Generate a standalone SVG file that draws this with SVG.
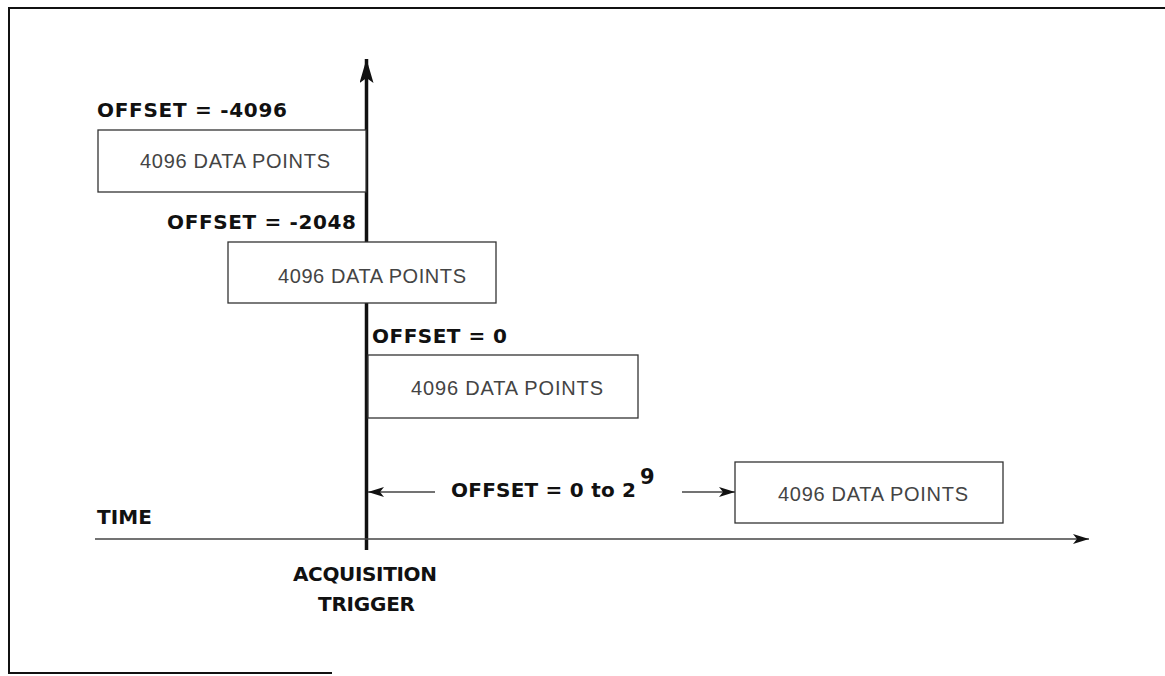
<svg xmlns="http://www.w3.org/2000/svg" width="1165" height="676" viewBox="0 0 1165 676">
<style>
.frame{fill:none;stroke:#111;stroke-width:2}
.box rect{fill:#fff;stroke:#333;stroke-width:1.3}
.box text{font-family:"Liberation Sans",Arial,sans-serif;font-size:20px;fill:#444;text-anchor:middle}
.lbl{font-family:"DejaVu Sans","Liberation Sans",Arial,sans-serif;font-size:20px;font-weight:bold;fill:#111}
.thin{stroke:#444;stroke-width:1.3;fill:none}
</style>
<defs>
<marker id="ah" viewBox="0 0 16 10" refX="16" refY="5" markerWidth="16" markerHeight="10" markerUnits="userSpaceOnUse" orient="auto">
<path d="M0,0 L16,5 L0,10 L4,5 Z" fill="#111"/>
</marker>
<marker id="ahBig" viewBox="0 0 24 14" refX="24" refY="7" markerWidth="24" markerHeight="14" markerUnits="userSpaceOnUse" orient="auto">
<path d="M0,0 L24,7 L0,14 L5,7 Z" fill="#111"/>
</marker>
</defs>
<rect width="1165" height="676" fill="#fff"/>
<g id="frame">
<path class="frame" d="M1165,8 H9 V673 H332"/>
</g>
<g id="connectors">
<line x1="366.5" y1="550" x2="366.5" y2="59" stroke="#111" stroke-width="3.5" marker-end="url(#ahBig)"/>
<line class="thin" x1="95" y1="539" x2="1089" y2="539" marker-end="url(#ah)"/>
<line class="thin" x1="435" y1="492" x2="368" y2="492" marker-end="url(#ah)"/>
<line class="thin" x1="682" y1="492" x2="735" y2="492" marker-end="url(#ah)"/>
</g>
<g id="box1" class="box">
<rect x="98" y="130" width="268" height="62"/>
<text x="235" y="168" textLength="190" lengthAdjust="spacing">4096 DATA POINTS</text>
</g>
<g id="box2" class="box">
<rect x="228" y="242" width="268" height="61"/>
<text x="372" y="283" textLength="188" lengthAdjust="spacing">4096 DATA POINTS</text>
</g>
<g id="box3" class="box">
<rect x="368" y="355" width="270" height="63"/>
<text x="507" y="395" textLength="192" lengthAdjust="spacing">4096 DATA POINTS</text>
</g>
<g id="box4" class="box">
<rect x="735" y="462" width="268" height="61"/>
<text x="873" y="501" textLength="190" lengthAdjust="spacing">4096 DATA POINTS</text>
</g>
<g id="labels">
<text class="lbl" x="97" y="117" textLength="190" lengthAdjust="spacing">OFFSET = -4096</text>
<text class="lbl" x="167" y="229" textLength="189" lengthAdjust="spacing">OFFSET = -2048</text>
<text class="lbl" x="372" y="343" textLength="135" lengthAdjust="spacing">OFFSET = 0</text>
<text class="lbl" x="451" y="497" textLength="185" lengthAdjust="spacing">OFFSET = 0 to 2</text>
<text class="lbl" x="640" y="484" style="font-size:21px">9</text>
<text class="lbl" x="97" y="524" textLength="55" lengthAdjust="spacing">TIME</text>
<text class="lbl" x="293" y="581" textLength="144" lengthAdjust="spacing">ACQUISITION</text>
<text class="lbl" x="318" y="611" textLength="97" lengthAdjust="spacing">TRIGGER</text>
</g>
</svg>
